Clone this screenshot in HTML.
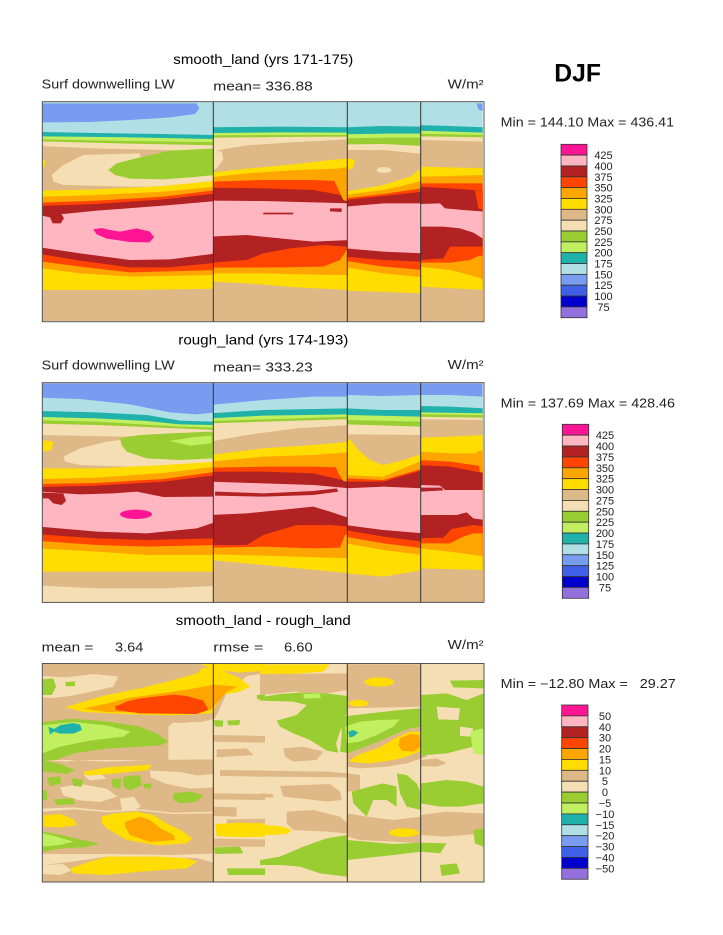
<!DOCTYPE html>
<html><head><meta charset="utf-8"><style>
html,body{margin:0;padding:0;background:#fff;}
svg{display:block;}
text{font-family:"Liberation Sans",sans-serif;}
</style></head><body>
<svg width="723" height="935" viewBox="0 0 723 935" xmlns="http://www.w3.org/2000/svg">
<rect x="0" y="0" width="723" height="935" fill="#fff"/>
<defs>
<clipPath id="a1"><rect x="37" y="187" width="513" height="656"/></clipPath>
<clipPath id="a2"><rect x="550" y="187" width="402" height="656"/></clipPath>
<clipPath id="a3"><rect x="952" y="187" width="220" height="656"/></clipPath>
<clipPath id="a4"><rect x="1172" y="187" width="186" height="656"/></clipPath>
<clipPath id="b1"><rect x="37" y="175" width="513" height="657"/></clipPath>
<clipPath id="b2"><rect x="550" y="175" width="402" height="657"/></clipPath>
<clipPath id="b3"><rect x="952" y="175" width="220" height="657"/></clipPath>
<clipPath id="b4"><rect x="1172" y="175" width="186" height="657"/></clipPath>
<clipPath id="c1"><rect x="7" y="11" width="1325" height="655"/></clipPath>
<clipPath id="c2"><rect x="-653" y="11" width="1325" height="655"/></clipPath>
</defs>

<!-- ============ PANEL 1 ============ -->
<g transform="translate(30,40) scale(0.3333333)">
<g clip-path="url(#a1)">
<rect x="30" y="180" width="530" height="670" fill="#B0E0E6"/>
<path fill="#789CF0" d="M30,190 L500,190 L508,205 L495,222 L420,232 L300,240 L180,246 L30,247 Z"/>
<path fill="#20B2AA" d="M30,276 L200,279 L400,282 L560,285 V900 H30 Z"/>
<path fill="#C0F060" d="M30,289 L300,292 L560,297 V900 H30 Z"/>
<path fill="#9ACD32" d="M30,298 L300,303 L560,307 V900 H30 Z"/>
<path fill="#F5DEB3" d="M30,304 L300,311 L560,316 V900 H30 Z"/>
<path fill="#DEB887" d="M30,318 L200,325 L400,330 L560,335 V900 H30 Z"/>
<path fill="#F5DEB3" d="M65,405 L100,375 L160,345 L330,340 L330,350 L555,345 L555,440 L300,440 L100,435 L70,425 Z"/>
<path fill="#9ACD32" d="M235,390 L260,370 L330,352 L420,332 L545,326 L555,330 L555,405 L480,412 L400,418 L300,416 L255,405 Z"/>
<path fill="#FFDD00" d="M37,358 L46,362 L44,380 L37,383 Z"/>
<path fill="#FFDD00" d="M30,452 L200,448 L400,438 L560,422 V900 H30 Z"/>
<path fill="#FFA500" d="M30,470 L200,465 L400,455 L560,440 V900 H30 Z"/>
<path fill="#FF4500" d="M30,488 L200,482 L400,470 L560,450 V900 H30 Z"/>
<path fill="#B22222" d="M30,498 L200,492 L400,478 L560,460 V900 H30 Z"/>
<path fill="#FFB6C1" d="M30,512 L100,522 L200,512 L400,497 L560,483 V900 H30 Z"/>
<path fill="#B22222" d="M37,512 L90,515 L102,535 L92,550 L68,550 L60,532 L37,527 Z"/>
<path fill="#FF1493" d="M190,568 L215,564 L240,570 L270,575 L320,565 L360,575 L372,592 L358,607 L300,606 L260,600 L230,596 L200,583 Z"/>
<path fill="#B22222" d="M30,622 L150,640 L300,660 L420,658 L560,640 V900 H30 Z"/>
<path fill="#FF4500" d="M30,642 L150,662 L300,682 L420,682 L560,668 V900 H30 Z"/>
<path fill="#FFA500" d="M30,664 L150,680 L300,697 L560,690 V900 H30 Z"/>
<path fill="#FFDD00" d="M30,684 L150,700 L300,710 L560,705 V900 H30 Z"/>
<path fill="#DEB887" d="M30,750 L300,750 L560,746 V900 H30 Z"/>
</g>
<g clip-path="url(#a2)">
<rect x="540" y="180" width="420" height="670" fill="#B0E0E6"/>
<path fill="#20B2AA" d="M540,262 L750,260 L960,262 V900 H540 Z"/>
<path fill="#C0F060" d="M540,279 L750,277 L960,278 V900 H540 Z"/>
<path fill="#9ACD32" d="M540,286 L750,285 L960,285 V900 H540 Z"/>
<path fill="#F5DEB3" d="M540,293 L750,291 L960,290 V900 H540 Z"/>
<path fill="#DEB887" d="M540,335 L650,316 L800,306 L960,298 V900 H540 Z"/>
<path fill="#F5DEB3" d="M550,330 L575,335 L580,360 L560,385 L550,390 Z"/>
<path fill="#FFDD00" d="M540,398 L650,386 L800,372 L900,360 L960,355 V900 H540 Z"/>
<path fill="#FFA500" d="M540,412 L650,400 L800,390 L920,386 L960,380 V900 H540 Z"/>
<path fill="#FF4500" d="M540,425 L700,420 L850,420 L960,425 V900 H540 Z"/>
<path fill="#B22222" d="M540,443 L700,445 L850,450 L960,470 V900 H540 Z"/>
<path fill="#FFA500" d="M912,420 L925,400 L955,390 L955,485 L940,480 L930,460 Z"/>
<path fill="#FFB6C1" d="M540,482 L700,483 L850,487 L960,490 V900 H540 Z"/>
<path fill="#B22222" d="M700,518 L790,518 L790,523 L700,523 Z"/>
<path fill="#B22222" d="M900,505 L935,505 L935,516 L900,514 Z"/>
<path fill="#B22222" d="M540,590 L650,585 L750,595 L850,605 L960,600 V900 H540 Z"/>
<path fill="#FF4500" d="M540,668 L650,660 L700,640 L780,625 L880,615 L945,620 L960,620 V900 H540 Z"/>
<path fill="#FFA500" d="M540,683 L750,682 L880,680 L930,660 L950,630 L960,630 V900 H540 Z"/>
<path fill="#FFDD00" d="M540,700 L700,700 L900,705 L960,705 V900 H540 Z"/>
<path fill="#DEB887" d="M540,725 L650,730 L800,742 L960,750 V900 H540 Z"/>
</g>
<g clip-path="url(#a3)">
<rect x="945" y="180" width="235" height="670" fill="#B0E0E6"/>
<path fill="#20B2AA" d="M945,262 L1060,258 L1180,260 V900 H945 Z"/>
<path fill="#C0F060" d="M945,283 L1060,281 L1180,281 V900 H945 Z"/>
<path fill="#9ACD32" d="M945,295 L1060,293 L1180,293 V900 H945 Z"/>
<path fill="#F5DEB3" d="M945,313 L1060,312 L1180,318 V900 H945 Z"/>
<path fill="#DEB887" d="M945,330 L1060,330 L1180,342 V900 H945 Z"/>
<path fill="#FFDD00" d="M952,355 L975,360 L970,385 L952,390 Z"/>
<ellipse cx="1062" cy="390" rx="22" ry="9" fill="#F5DEB3"/>
<path fill="#FFDD00" d="M945,455 L1060,435 L1140,410 L1180,380 V900 H945 Z"/>
<path fill="#FFA500" d="M945,465 L1060,450 L1140,432 L1180,420 V900 H945 Z"/>
<path fill="#FF4500" d="M945,475 L1060,462 L1180,444 V900 H945 Z"/>
<path fill="#B22222" d="M945,480 L1060,468 L1180,455 V900 H945 Z"/>
<path fill="#FFB6C1" d="M945,500 L1060,490 L1180,490 V900 H945 Z"/>
<path fill="#B22222" d="M945,625 L1060,635 L1180,640 V900 H945 Z"/>
<path fill="#FF4500" d="M945,650 L1060,660 L1180,665 V900 H945 Z"/>
<path fill="#FFA500" d="M945,662 L1060,680 L1180,690 V900 H945 Z"/>
<path fill="#FFDD00" d="M945,682 L1060,700 L1180,712 V900 H945 Z"/>
<path fill="#DEB887" d="M945,752 L1180,760 V900 H945 Z"/>
</g>
<g clip-path="url(#a4)">
<rect x="1165" y="180" width="200" height="670" fill="#B0E0E6"/>
<path fill="#789CF0" d="M1340,190 L1362,190 L1362,215 L1345,208 Z"/>
<path fill="#20B2AA" d="M1165,255 L1260,258 L1365,262 V900 H1165 Z"/>
<path fill="#C0F060" d="M1165,272 L1260,275 L1365,278 V900 H1165 Z"/>
<path fill="#9ACD32" d="M1165,281 L1365,285 V900 H1165 Z"/>
<path fill="#F5DEB3" d="M1165,289 L1365,292 V900 H1165 Z"/>
<path fill="#DEB887" d="M1165,300 L1365,305 V900 H1165 Z"/>
<path fill="#FFDD00" d="M1165,380 L1260,382 L1365,385 V900 H1165 Z"/>
<path fill="#FFA500" d="M1165,410 L1260,408 L1365,405 V900 H1165 Z"/>
<path fill="#FF4500" d="M1165,430 L1260,430 L1365,430 V900 H1165 Z"/>
<path fill="#B22222" d="M1165,440 L1260,445 L1330,450 L1365,455 V900 H1165 Z"/>
<path fill="#FF4500" d="M1335,452 L1365,455 L1365,510 L1345,505 Z"/>
<path fill="#FFB6C1" d="M1172,492 L1230,490 L1245,505 L1300,510 L1365,515 L1365,600 L1330,578 L1290,565 L1240,560 L1172,560 Z"/>
<path fill="#FF4500" d="M1165,660 L1240,655 L1260,620 L1365,620 V900 H1165 Z"/>
<path fill="#FFA500" d="M1165,668 L1260,668 L1320,660 L1340,650 L1365,645 V900 H1165 Z"/>
<path fill="#FFDD00" d="M1165,680 L1260,690 L1320,705 L1365,720 V900 H1165 Z"/>
<path fill="#DEB887" d="M1165,740 L1365,750 V900 H1165 Z"/>
</g>
</g>

<!-- ============ PANEL 2 ============ -->
<g transform="translate(30,325) scale(0.3333333)">
<g clip-path="url(#b1)">
<rect x="30" y="170" width="530" height="670" fill="#789CF0"/>
<path fill="#B0E0E6" d="M30,218 L150,222 L300,238 L420,262 L500,268 L560,262 V900 H30 Z"/>
<path fill="#20B2AA" d="M30,258 L200,262 L350,270 L450,287 L560,290 V900 H30 Z"/>
<path fill="#C0F060" d="M30,276 L200,280 L350,288 L450,298 L560,300 V900 H30 Z"/>
<path fill="#9ACD32" d="M30,286 L200,290 L450,305 L560,308 V900 H30 Z"/>
<path fill="#F5DEB3" d="M30,296 L200,300 L560,315 V900 H30 Z"/>
<path fill="#DEB887" d="M30,330 L270,335 L560,325 V900 H30 Z"/>
<path fill="#F5DEB3" d="M100,395 L150,370 L230,350 L270,345 L300,380 L400,398 L555,400 L555,430 L300,425 L150,420 L105,410 Z"/>
<path fill="#FFDD00" d="M37,345 L70,350 L65,375 L37,380 Z"/>
<path fill="#9ACD32" d="M270,340 L330,330 L420,325 L545,320 L555,330 L555,400 L450,405 L350,400 L290,380 L275,360 Z"/>
<path fill="#C0F060" d="M420,348 L480,338 L545,332 L545,355 L480,362 Z"/>
<path fill="#FFDD00" d="M30,430 L200,430 L400,420 L560,410 V900 H30 Z"/>
<path fill="#FFA500" d="M30,462 L200,458 L400,444 L560,425 V900 H30 Z"/>
<path fill="#FF4500" d="M30,477 L200,474 L400,462 L560,440 V900 H30 Z"/>
<path fill="#B22222" d="M30,486 L200,482 L400,470 L560,450 V900 H30 Z"/>
<path fill="#FFB6C1" d="M30,500 L150,508 L250,505 L320,500 L400,516 L560,515 V900 H30 Z"/>
<path fill="#B22222" d="M37,503 L100,505 L108,528 L95,540 L70,535 L55,520 L37,520 Z"/>
<ellipse cx="318" cy="568" rx="48" ry="14" fill="#FF1493"/>
<path fill="#B22222" d="M30,605 L200,620 L350,625 L500,610 L560,590 V900 H30 Z"/>
<path fill="#FF4500" d="M30,628 L200,640 L350,645 L560,640 V900 H30 Z"/>
<path fill="#FFA500" d="M30,648 L200,660 L350,665 L560,660 V900 H30 Z"/>
<path fill="#FFDD00" d="M30,670 L200,680 L350,690 L560,690 V900 H30 Z"/>
<path fill="#DEB887" d="M30,740 L300,740 L560,740 V900 H30 Z"/>
<path fill="#F5DEB3" d="M30,782 L200,790 L400,790 L560,782 V900 H30 Z"/>
</g>
<g clip-path="url(#b2)">
<rect x="540" y="170" width="420" height="670" fill="#789CF0"/>
<path fill="#B0E0E6" d="M540,240 L700,225 L850,215 L960,215 V900 H540 Z"/>
<path fill="#20B2AA" d="M540,265 L700,255 L960,250 V900 H540 Z"/>
<path fill="#C0F060" d="M540,280 L700,272 L960,268 V900 H540 Z"/>
<path fill="#9ACD32" d="M540,288 L960,275 V900 H540 Z"/>
<path fill="#F5DEB3" d="M540,295 L960,282 V900 H540 Z"/>
<path fill="#DEB887" d="M540,350 L650,330 L800,310 L960,300 V900 H540 Z"/>
<path fill="#FFDD00" d="M540,390 L700,370 L850,360 L960,350 V900 H540 Z"/>
<path fill="#FFA500" d="M540,410 L700,395 L850,390 L960,382 V900 H540 Z"/>
<path fill="#FF4500" d="M540,428 L700,425 L850,425 L960,428 V900 H540 Z"/>
<path fill="#B22222" d="M540,440 L700,440 L850,445 L960,470 V900 H540 Z"/>
<path fill="#FFA500" d="M915,420 L930,395 L955,385 L955,470 L940,468 L925,445 Z"/>
<path fill="#FFB6C1" d="M540,470 L700,475 L850,480 L960,490 V900 H540 Z"/>
<path fill="#B22222" d="M555,500 L700,505 L850,498 L920,490 L925,500 L850,510 L700,515 L555,512 Z"/>
<path fill="#B22222" d="M540,570 L650,565 L750,555 L850,545 L900,560 L960,580 V900 H540 Z"/>
<path fill="#FF4500" d="M540,660 L650,660 L700,630 L800,600 L900,600 L960,605 V900 H540 Z"/>
<path fill="#FFA500" d="M540,668 L700,665 L850,670 L930,668 L945,630 L960,628 V900 H540 Z"/>
<path fill="#FFDD00" d="M540,688 L700,692 L960,700 V900 H540 Z"/>
<path fill="#DEB887" d="M540,705 L700,720 L960,745 V900 H540 Z"/>
</g>
<g clip-path="url(#b3)">
<rect x="945" y="170" width="235" height="670" fill="#789CF0"/>
<path fill="#B0E0E6" d="M945,210 L1060,213 L1180,210 V900 H945 Z"/>
<path fill="#20B2AA" d="M945,250 L1060,255 L1180,255 V900 H945 Z"/>
<path fill="#C0F060" d="M945,270 L1180,275 V900 H945 Z"/>
<path fill="#9ACD32" d="M945,285 L1180,290 V900 H945 Z"/>
<path fill="#F5DEB3" d="M945,298 L1180,305 V900 H945 Z"/>
<path fill="#DEB887" d="M945,328 L1180,330 V900 H945 Z"/>
<path fill="#FFDD00" d="M945,340 L962,345 L985,375 L1020,405 L1060,420 L1120,405 L1180,385 V900 H945 Z"/>
<path fill="#FFA500" d="M945,450 L1060,455 L1180,405 V900 H945 Z"/>
<path fill="#FF4500" d="M945,460 L1060,465 L1180,430 V900 H945 Z"/>
<path fill="#B22222" d="M945,470 L1060,470 L1180,435 V900 H945 Z"/>
<path fill="#FFB6C1" d="M945,490 L1060,485 L1180,490 V900 H945 Z"/>
<path fill="#B22222" d="M945,600 L1060,615 L1180,625 V900 H945 Z"/>
<path fill="#FF4500" d="M945,615 L1060,635 L1180,650 V900 H945 Z"/>
<path fill="#FFA500" d="M945,635 L1060,655 L1180,670 V900 H945 Z"/>
<path fill="#FFDD00" d="M945,655 L1060,675 L1180,690 V900 H945 Z"/>
<path fill="#DEB887" d="M945,745 L1060,755 L1180,735 V900 H945 Z"/>
</g>
<g clip-path="url(#b4)">
<rect x="1165" y="170" width="200" height="670" fill="#789CF0"/>
<path fill="#B0E0E6" d="M1165,210 L1260,210 L1365,215 V900 H1165 Z"/>
<path fill="#20B2AA" d="M1165,243 L1260,245 L1365,250 V900 H1165 Z"/>
<path fill="#C0F060" d="M1165,262 L1365,265 V900 H1165 Z"/>
<path fill="#9ACD32" d="M1165,268 L1365,270 V900 H1165 Z"/>
<path fill="#F5DEB3" d="M1165,275 L1365,278 V900 H1165 Z"/>
<path fill="#DEB887" d="M1165,283 L1365,285 V900 H1165 Z"/>
<path fill="#FFDD00" d="M1165,338 L1260,335 L1365,330 V900 H1165 Z"/>
<path fill="#FFA500" d="M1165,380 L1260,385 L1365,385 V900 H1165 Z"/>
<path fill="#FF4500" d="M1165,405 L1260,410 L1365,425 V900 H1165 Z"/>
<path fill="#B22222" d="M1165,420 L1260,425 L1365,445 V900 H1165 Z"/>
<path fill="#FFA500" d="M1340,380 L1365,375 L1365,445 L1350,440 Z"/>
<path fill="#FFB6C1" d="M1172,480 L1230,482 L1245,495 L1300,495 L1365,495 L1365,585 L1330,580 L1310,562 L1280,570 L1172,570 Z"/>
<path fill="#B22222" d="M1172,488 L1235,488 L1240,496 L1172,500 Z"/>
<path fill="#FF4500" d="M1165,640 L1240,638 L1265,612 L1330,600 L1365,605 V900 H1165 Z"/>
<path fill="#FFA500" d="M1165,655 L1260,655 L1300,635 L1330,625 L1365,625 V900 H1165 Z"/>
<path fill="#FFDD00" d="M1165,670 L1260,680 L1365,695 V900 H1165 Z"/>
<path fill="#DEB887" d="M1165,730 L1365,735 V900 H1165 Z"/>
</g>
</g>

<!-- ============ PANEL 3 ============ -->
<rect x="42.3" y="663.5" width="441.7" height="218.5" fill="#F5DEB3"/>
<g transform="translate(40,660) scale(0.3333333)">
<g clip-path="url(#c1)">
<path fill="#DEB887" d="M7,12 L675,12 L675,40 L620,48 L560,100 L525,175 L470,190 L400,188 L385,200 L385,300 L7,300 Z"/>
<path fill="#F5DEB3" d="M7,48 L80,52 L160,42 L235,50 L220,80 L150,96 L90,108 L40,114 L7,112 Z"/>
<path fill="#9ACD32" d="M7,58 L40,55 L48,80 L35,105 L7,105 Z"/>
<path fill="#9ACD32" d="M75,66 L105,64 L105,78 L78,79 Z"/>
<path fill="#FFDD00" d="M480,12 L675,12 L675,32 L600,38 L530,30 Z"/>
<path fill="#FFDD00" d="M75,142 L130,125 L200,105 L300,85 L400,60 L470,40 L490,22 L530,24 L600,55 L632,80 L600,95 L545,105 L515,160 L400,166 L250,162 L130,156 Z"/>
<path fill="#FFA500" d="M130,146 L200,131 L260,115 L400,95 L470,84 L520,74 L592,80 L560,96 L512,150 L400,160 L200,156 Z"/>
<path fill="#FF4500" d="M225,140 L262,124 L300,115 L400,104 L440,108 L490,122 L505,150 L470,162 L300,160 L228,150 Z"/>
<path fill="#F5DEB3" d="M392,192 L460,186 L520,190 L520,296 L430,292 L398,268 Z"/>
<path fill="#DEB887" d="M7,300 L80,305 L110,300 L200,305 L330,300 L520,298 L520,455 L400,458 L300,448 L200,452 L100,442 L7,446 Z"/>
<path fill="#9ACD32" d="M7,186 L100,176 L200,184 L300,200 L350,220 L386,245 L360,256 L300,260 L200,266 L100,280 L50,300 L7,302 Z"/>
<path fill="#9ACD32" d="M7,300 L60,312 L105,330 L80,342 L7,334 Z"/>
<path fill="#C0F060" d="M7,196 L100,186 L200,196 L272,215 L250,230 L150,242 L60,260 L7,280 Z"/>
<path fill="#20B2AA" d="M25,200 L42,207 L62,195 L100,189 L120,194 L126,210 L100,221 L60,221 L42,215 L30,224 Z"/>
<path fill="#F5DEB3" d="M60,382 L120,372 L200,386 L232,410 L180,426 L120,421 L70,406 Z"/>
<path fill="#F5DEB3" d="M240,416 L282,410 L302,440 L272,458 L246,450 Z"/>
<path fill="#F5DEB3" d="M330,332 L420,336 L470,346 L520,342 L520,382 L450,386 L380,372 L332,352 Z"/>
<path fill="#F5DEB3" d="M130,345 L180,340 L200,355 L150,362 Z"/>
<path fill="#FFDD00" d="M130,335 L200,322 L335,314 L325,330 L210,342 L140,347 Z"/>
<path fill="#9ACD32" d="M20,352 L60,350 L65,370 L30,378 Z"/>
<path fill="#9ACD32" d="M95,355 L130,360 L125,380 L100,378 Z"/>
<path fill="#9ACD32" d="M215,358 L245,355 L240,385 L218,382 Z"/>
<path fill="#9ACD32" d="M250,350 L300,345 L305,375 L270,392 L250,380 Z"/>
<path fill="#9ACD32" d="M400,400 L450,395 L490,405 L470,425 L420,430 L400,420 Z"/>
<path fill="#9ACD32" d="M40,418 L100,415 L105,432 L50,435 Z"/>
<path fill="#9ACD32" d="M7,390 L20,392 L22,420 L7,422 Z"/>
<path fill="#9ACD32" d="M310,372 L335,370 L333,385 L312,385 Z"/>
<path fill="#DEB887" d="M7,455 L100,448 L200,456 L300,452 L400,462 L520,460 L520,580 L400,585 L200,582 L7,582 Z"/>
<path fill="#FFDD00" d="M10,466 L60,462 L100,478 L112,495 L60,503 L10,500 Z"/>
<path fill="#FFDD00" d="M185,470 L222,460 L290,455 L340,465 L380,490 L430,515 L456,535 L440,550 L350,556 L260,540 L200,505 L185,490 Z"/>
<path fill="#FFA500" d="M255,486 L300,470 L330,480 L362,505 L400,525 L405,540 L330,546 L270,525 L255,500 Z"/>
<path fill="#9ACD32" d="M7,515 L60,524 L120,538 L180,550 L140,561 L60,566 L7,576 Z"/>
<path fill="#C0F060" d="M7,520 L50,530 L100,545 L60,555 L7,560 Z"/>
<path fill="#DEB887" d="M7,615 L90,606 L200,590 L470,594 L520,608 L520,666 L7,666 Z"/>
<path fill="#F5DEB3" d="M7,615 L70,612 L95,632 L60,645 L7,642 Z"/>
<path fill="#FFDD00" d="M90,625 L150,605 L200,590 L280,590 L360,590 L440,595 L472,605 L440,625 L300,635 L200,645 L100,640 Z"/>
<!-- seg2 left part -->
<path fill="#DEB887" d="M520,225 L675,228 L675,248 L520,245 Z"/>
<path fill="#DEB887" d="M530,268 L620,265 L640,285 L530,292 Z"/>
<path fill="#DEB887" d="M540,330 L675,332 L675,350 L540,348 Z"/>
<path fill="#DEB887" d="M520,400 L675,402 L675,420 L520,418 Z"/>
<path fill="#DEB887" d="M520,440 L590,442 L590,470 L520,468 Z"/>
<path fill="#DEB887" d="M560,478 L675,476 L675,500 L560,498 Z"/>
<path fill="#DEB887" d="M520,536 L675,538 L675,560 L520,560 Z"/>
<path fill="#FFDD00" d="M525,492 L600,488 L675,490 L675,530 L600,532 L530,528 Z"/>
<path fill="#9ACD32" d="M522,562 L600,560 L610,580 L525,582 Z"/>
<path fill="#9ACD32" d="M560,625 L675,625 L675,645 L565,645 Z"/>
<path fill="#9ACD32" d="M522,180 L550,182 L548,200 L525,200 Z"/>
<path fill="#9ACD32" d="M562,182 L600,180 L598,195 L565,196 Z"/>
<path fill="#9ACD32" d="M650,105 L675,102 L675,118 L652,118 Z"/>
</g>
</g>
<g transform="translate(260,660) scale(0.3333333)">
<g clip-path="url(#c2)">
<path fill="#FFDD00" d="M0,13 L210,13 L190,35 L100,42 L0,42 Z"/>
<path fill="#DEB887" d="M0,42 L262,40 L262,90 L200,100 L100,95 L0,105 Z"/>
<path fill="#9ACD32" d="M0,112 L60,102 L130,97 L200,100 L262,108 L262,155 L245,200 L228,250 L235,278 L200,272 L150,240 L100,220 L60,200 L50,182 L110,165 L140,135 L100,125 L0,122 Z"/>
<path fill="#C0F060" d="M130,102 L180,100 L182,114 L132,116 Z"/>
<path fill="#DEB887" d="M70,265 L130,260 L190,275 L170,300 L100,305 L75,290 Z"/>
<path fill="#DEB887" d="M0,332 L200,335 L262,340 L262,352 L0,350 Z"/>
<path fill="#DEB887" d="M60,378 L210,372 L240,395 L245,420 L200,425 L120,415 L70,410 Z"/>
<path fill="#DEB887" d="M80,455 L160,450 L240,470 L262,490 L262,520 L200,515 L100,510 L80,490 Z"/>
<path fill="#DEB887" d="M0,400 L40,402 L40,412 L0,412 Z"/>
<path fill="#FFDD00" d="M0,495 L60,498 L95,510 L80,522 L30,525 L0,522 Z"/>
<path fill="#9ACD32" d="M0,600 L60,590 L130,560 L200,535 L262,525 L262,650 L180,640 L120,620 L60,615 L0,615 Z"/>
<!-- seg3 -->
<path fill="#DEB887" d="M262,13 L483,13 L483,140 L262,145 Z"/>
<ellipse cx="358" cy="66" rx="45" ry="14" fill="#FFDD00"/>
<ellipse cx="295" cy="130" rx="30" ry="10" fill="#FFDD00"/>
<path fill="#9ACD32" d="M245,170 L330,160 L420,150 L483,145 L483,200 L440,210 L400,230 L330,260 L270,280 L240,275 L245,230 Z"/>
<path fill="#C0F060" d="M255,200 L300,185 L360,180 L420,178 L400,200 L350,225 L300,245 L260,250 Z"/>
<path fill="#20B2AA" d="M265,215 L280,210 L295,218 L280,230 L268,232 Z"/>
<path fill="#DEB887" d="M262,280 L330,255 L400,225 L450,205 L495,200 L500,290 L440,310 L380,320 L300,325 L262,320 Z"/>
<path fill="#FFDD00" d="M270,300 L300,282 L360,262 L410,232 L450,215 L490,215 L490,270 L440,290 L400,300 L330,310 L272,306 Z"/>
<path fill="#FFA500" d="M420,235 L450,222 L478,225 L482,260 L460,275 L425,272 L415,255 Z"/>
<path fill="#DEB887" d="M262,340 L300,345 L300,390 L262,395 Z"/>
<path fill="#9ACD32" d="M275,395 L330,380 L370,370 L410,380 L410,440 L380,420 L340,420 L320,470 L300,450 L280,430 Z"/>
<path fill="#9ACD32" d="M410,340 L440,345 L470,370 L483,400 L483,450 L440,440 L420,400 Z"/>
<path fill="#DEB887" d="M262,460 L320,470 L400,480 L483,470 L483,550 L400,545 L300,540 L262,530 Z"/>
<ellipse cx="432" cy="518" rx="45" ry="13" fill="#FFDD00"/>
<path fill="#9ACD32" d="M262,540 L400,552 L483,548 L560,550 L540,580 L483,575 L400,585 L262,600 Z"/>
<!-- seg4 -->
<path fill="#9ACD32" d="M570,62 L670,60 L670,85 L580,82 Z"/>
<path fill="#9ACD32" d="M483,105 L560,100 L620,120 L670,100 L670,210 L640,260 L600,270 L560,280 L500,285 L483,290 Z"/>
<path fill="#F5DEB3" d="M530,140 L600,145 L595,180 L535,178 Z"/>
<path fill="#F5DEB3" d="M600,200 L640,205 L630,230 L600,228 Z"/>
<path fill="#C0F060" d="M630,215 L670,205 L670,285 L640,280 Z"/>
<path fill="#DEB887" d="M483,300 L530,295 L560,310 L530,320 L483,318 Z"/>
<path fill="#9ACD32" d="M483,370 L560,360 L620,365 L670,380 L670,430 L600,440 L540,440 L483,430 Z"/>
<path fill="#DEB887" d="M483,465 L560,455 L670,460 L670,520 L560,530 L483,525 Z"/>
<path fill="#9ACD32" d="M640,510 L670,505 L670,560 L645,550 Z"/>
<path fill="#9ACD32" d="M540,615 L590,610 L600,640 L545,648 Z"/>
</g>
</g>

<!-- frames -->
<g fill="none" stroke="#555" stroke-width="1">
<rect x="42.3" y="101.7" width="441.7" height="220"/>
<rect x="42.3" y="382.7" width="441.7" height="219.7"/>
<rect x="42.3" y="663.5" width="441.7" height="218.5"/>
</g>
<g stroke="#333" stroke-width="1">
<line x1="213.3" y1="101.7" x2="213.3" y2="321.7"/><line x1="347.3" y1="101.7" x2="347.3" y2="321.7"/><line x1="420.7" y1="101.7" x2="420.7" y2="321.7"/>
<line x1="213.3" y1="382.7" x2="213.3" y2="602.4"/><line x1="347.3" y1="382.7" x2="347.3" y2="602.4"/><line x1="420.7" y1="382.7" x2="420.7" y2="602.4"/>
<line x1="213.3" y1="663.5" x2="213.3" y2="882"/><line x1="347.3" y1="663.5" x2="347.3" y2="882"/><line x1="420.7" y1="663.5" x2="420.7" y2="882"/>
</g>

<!-- texts -->
<g fill="#000">
<text x="263.3" y="64" font-size="14" text-anchor="middle" textLength="180" lengthAdjust="spacingAndGlyphs">smooth_land (yrs 171-175)</text>
<text x="263.3" y="344.5" font-size="14" text-anchor="middle" textLength="170" lengthAdjust="spacingAndGlyphs">rough_land (yrs 174-193)</text>
<text x="263.3" y="625" font-size="14" text-anchor="middle" textLength="175" lengthAdjust="spacingAndGlyphs">smooth_land - rough_land</text>
<text x="554.3" y="81.7" font-size="25" font-weight="bold" textLength="46.7" lengthAdjust="spacingAndGlyphs">DJF</text>
</g>
<g fill="#222" font-size="12.5">
<text x="41.7" y="88.3" textLength="133" lengthAdjust="spacingAndGlyphs">Surf downwelling LW</text>
<text x="213.3" y="90.7" textLength="99.4" lengthAdjust="spacingAndGlyphs">mean= 336.88</text>
<text x="447.7" y="88.3" textLength="36" lengthAdjust="spacingAndGlyphs">W/m²</text>
<text x="41.7" y="369.3" textLength="133" lengthAdjust="spacingAndGlyphs">Surf downwelling LW</text>
<text x="213.3" y="371.7" textLength="99.4" lengthAdjust="spacingAndGlyphs">mean= 333.23</text>
<text x="447.7" y="369" textLength="36" lengthAdjust="spacingAndGlyphs">W/m²</text>
<text x="41.7" y="651.7" textLength="51.7" lengthAdjust="spacingAndGlyphs">mean =</text>
<text x="115" y="651.7" textLength="28.3" lengthAdjust="spacingAndGlyphs">3.64</text>
<text x="213.3" y="651.7" textLength="50" lengthAdjust="spacingAndGlyphs">rmse =</text>
<text x="284" y="651.7" textLength="28.7" lengthAdjust="spacingAndGlyphs">6.60</text>
<text x="447.7" y="649" textLength="36" lengthAdjust="spacingAndGlyphs">W/m²</text>
<text x="500.7" y="126.7" textLength="173.3" lengthAdjust="spacingAndGlyphs" xml:space="preserve">Min = 144.10 Max = 436.41</text>
<text x="500.7" y="407.3" textLength="174.3" lengthAdjust="spacingAndGlyphs" xml:space="preserve">Min = 137.69 Max = 428.46</text>
<text x="500.7" y="688" textLength="175" lengthAdjust="spacingAndGlyphs" xml:space="preserve">Min = −12.80 Max =   29.27</text>
</g>

<!-- colorbars -->
<g transform="translate(561,144.3)" stroke="#333" stroke-width="0.8">
<rect x="0" y="0" width="26" height="10.84" fill="#FF1493"/>
<rect x="0" y="10.84" width="26" height="10.84" fill="#FFB6C1"/>
<rect x="0" y="21.68" width="26" height="10.84" fill="#B22222"/>
<rect x="0" y="32.52" width="26" height="10.84" fill="#FF4500"/>
<rect x="0" y="43.36" width="26" height="10.84" fill="#FFA500"/>
<rect x="0" y="54.2" width="26" height="10.84" fill="#FFDD00"/>
<rect x="0" y="65.04" width="26" height="10.84" fill="#DEB887"/>
<rect x="0" y="75.88" width="26" height="10.84" fill="#F5DEB3"/>
<rect x="0" y="86.72" width="26" height="10.84" fill="#9ACD32"/>
<rect x="0" y="97.56" width="26" height="10.84" fill="#C0F060"/>
<rect x="0" y="108.4" width="26" height="10.84" fill="#20B2AA"/>
<rect x="0" y="119.24" width="26" height="10.84" fill="#B0E0E6"/>
<rect x="0" y="130.08" width="26" height="10.84" fill="#789CF0"/>
<rect x="0" y="140.92" width="26" height="10.84" fill="#4060E8"/>
<rect x="0" y="151.76" width="26" height="10.84" fill="#0000CD"/>
<rect x="0" y="162.6" width="26" height="10.84" fill="#9370DB"/>
</g>
<g transform="translate(561,144.3)" fill="#222" font-size="11" text-anchor="middle">
<text x="42.5" y="14.8">425</text><text x="42.5" y="25.7">400</text><text x="42.5" y="36.5">375</text><text x="42.5" y="47.4">350</text><text x="42.5" y="58.2">325</text><text x="42.5" y="69">300</text><text x="42.5" y="79.9">275</text><text x="42.5" y="90.7">250</text><text x="42.5" y="101.6">225</text><text x="42.5" y="112.4">200</text><text x="42.5" y="123.2">175</text><text x="42.5" y="134.1">150</text><text x="42.5" y="144.9">125</text><text x="42.5" y="155.8">100</text><text x="42.5" y="166.6">75</text>
</g>

<g transform="translate(562.3,424.3)" stroke="#333" stroke-width="0.8">
<rect x="0" y="0" width="26.4" height="10.875" fill="#FF1493"/>
<rect x="0" y="10.875" width="26.4" height="10.875" fill="#FFB6C1"/>
<rect x="0" y="21.75" width="26.4" height="10.875" fill="#B22222"/>
<rect x="0" y="32.625" width="26.4" height="10.875" fill="#FF4500"/>
<rect x="0" y="43.5" width="26.4" height="10.875" fill="#FFA500"/>
<rect x="0" y="54.375" width="26.4" height="10.875" fill="#FFDD00"/>
<rect x="0" y="65.25" width="26.4" height="10.875" fill="#DEB887"/>
<rect x="0" y="76.125" width="26.4" height="10.875" fill="#F5DEB3"/>
<rect x="0" y="87" width="26.4" height="10.875" fill="#9ACD32"/>
<rect x="0" y="97.875" width="26.4" height="10.875" fill="#C0F060"/>
<rect x="0" y="108.75" width="26.4" height="10.875" fill="#20B2AA"/>
<rect x="0" y="119.625" width="26.4" height="10.875" fill="#B0E0E6"/>
<rect x="0" y="130.5" width="26.4" height="10.875" fill="#789CF0"/>
<rect x="0" y="141.375" width="26.4" height="10.875" fill="#4060E8"/>
<rect x="0" y="152.25" width="26.4" height="10.875" fill="#0000CD"/>
<rect x="0" y="163.125" width="26.4" height="10.875" fill="#9370DB"/>
</g>
<g transform="translate(562.3,424.3)" fill="#222" font-size="11" text-anchor="middle">
<text x="42.7" y="14.9">425</text><text x="42.7" y="25.8">400</text><text x="42.7" y="36.6">375</text><text x="42.7" y="47.5">350</text><text x="42.7" y="58.4">325</text><text x="42.7" y="69.3">300</text><text x="42.7" y="80.1">275</text><text x="42.7" y="91">250</text><text x="42.7" y="101.9">225</text><text x="42.7" y="112.8">200</text><text x="42.7" y="123.6">175</text><text x="42.7" y="134.5">150</text><text x="42.7" y="145.4">125</text><text x="42.7" y="156.3">100</text><text x="42.7" y="167.1">75</text>
</g>

<g transform="translate(561.7,705)" stroke="#333" stroke-width="0.8">
<rect x="0" y="0" width="26.3" height="10.89" fill="#FF1493"/>
<rect x="0" y="10.89" width="26.3" height="10.89" fill="#FFB6C1"/>
<rect x="0" y="21.78" width="26.3" height="10.89" fill="#B22222"/>
<rect x="0" y="32.67" width="26.3" height="10.89" fill="#FF4500"/>
<rect x="0" y="43.56" width="26.3" height="10.89" fill="#FFA500"/>
<rect x="0" y="54.45" width="26.3" height="10.89" fill="#FFDD00"/>
<rect x="0" y="65.34" width="26.3" height="10.89" fill="#DEB887"/>
<rect x="0" y="76.23" width="26.3" height="10.89" fill="#F5DEB3"/>
<rect x="0" y="87.12" width="26.3" height="10.89" fill="#9ACD32"/>
<rect x="0" y="98.01" width="26.3" height="10.89" fill="#C0F060"/>
<rect x="0" y="108.9" width="26.3" height="10.89" fill="#20B2AA"/>
<rect x="0" y="119.79" width="26.3" height="10.89" fill="#B0E0E6"/>
<rect x="0" y="130.68" width="26.3" height="10.89" fill="#789CF0"/>
<rect x="0" y="141.57" width="26.3" height="10.89" fill="#4060E8"/>
<rect x="0" y="152.46" width="26.3" height="10.89" fill="#0000CD"/>
<rect x="0" y="163.35" width="26.3" height="10.89" fill="#9370DB"/>
</g>
<g transform="translate(561.7,705)" fill="#222" font-size="11" text-anchor="middle">
<text x="43.3" y="14.9">50</text><text x="43.3" y="25.8">40</text><text x="43.3" y="36.7">30</text><text x="43.3" y="47.6">20</text><text x="43.3" y="58.5">15</text><text x="43.3" y="69.3">10</text><text x="43.3" y="80.2">5</text><text x="43.3" y="91.1">0</text><text x="43.3" y="102">−5</text><text x="43.3" y="112.9">−10</text><text x="43.3" y="123.8">−15</text><text x="43.3" y="134.7">−20</text><text x="43.3" y="145.6">−30</text><text x="43.3" y="156.5">−40</text><text x="43.3" y="167.4">−50</text>
</g>
</svg>
</body></html>
